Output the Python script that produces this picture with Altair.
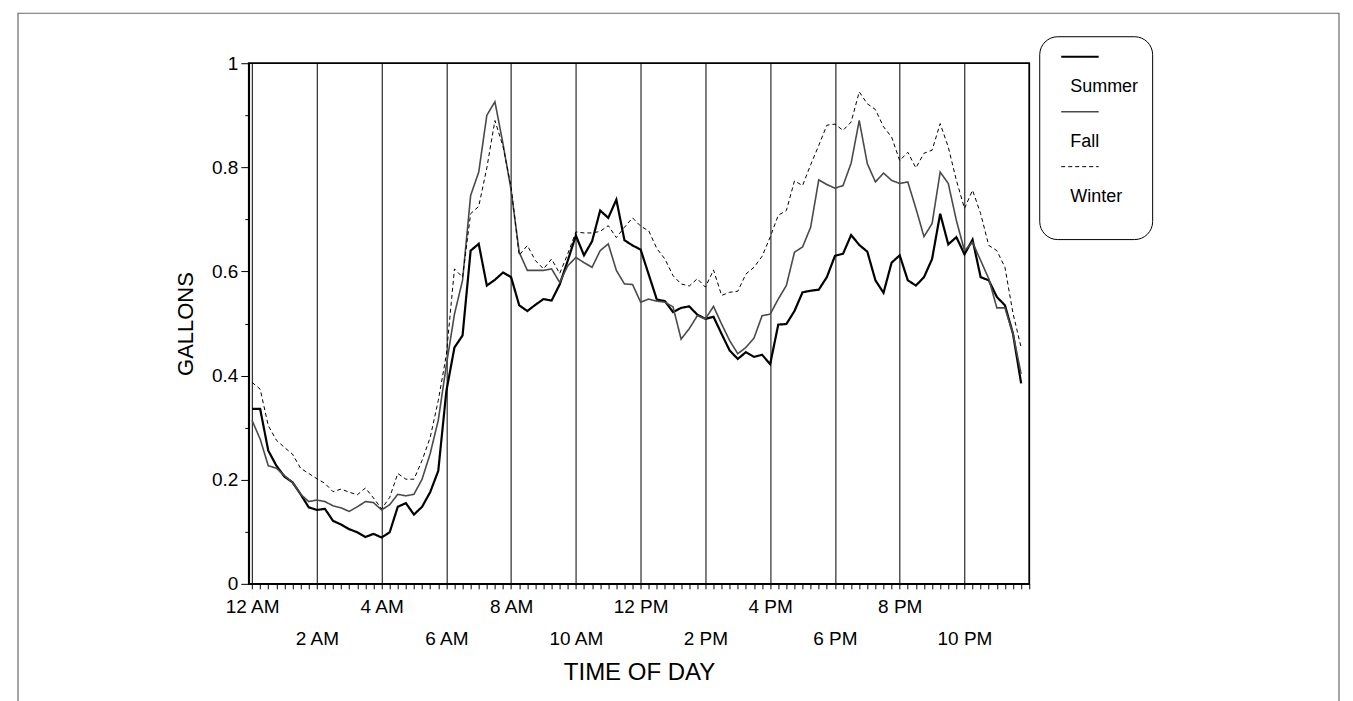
import altair as alt
import pandas as pd

# ---------------- data ----------------
series_names = ["Summer", "Fall", "Winter"]
hours = [i / 4 for i in range(96)]  # 15-minute time steps, 12 AM .. 11:45 PM

summer = [0.336, 0.336, 0.256, 0.227, 0.206, 0.195, 0.172, 0.147, 0.142, 0.144,
          0.121, 0.114, 0.105, 0.099, 0.090, 0.096, 0.089, 0.099, 0.148, 0.155,
          0.133, 0.148, 0.176, 0.217, 0.370, 0.454, 0.477, 0.640, 0.653, 0.573,
          0.584, 0.598, 0.589, 0.535, 0.524, 0.536, 0.547, 0.544, 0.575, 0.621,
          0.669, 0.631, 0.658, 0.717, 0.703, 0.738, 0.660, 0.650, 0.642, 0.594,
          0.546, 0.543, 0.522, 0.530, 0.533, 0.517, 0.509, 0.513, 0.480, 0.448,
          0.432, 0.445, 0.436, 0.440, 0.422, 0.498, 0.499, 0.524, 0.560, 0.563,
          0.565, 0.589, 0.630, 0.634, 0.670, 0.651, 0.638, 0.583, 0.559, 0.617,
          0.631, 0.583, 0.573, 0.589, 0.624, 0.711, 0.652, 0.666, 0.633, 0.661,
          0.589, 0.583, 0.551, 0.535, 0.480, 0.385]

fall = [0.314, 0.278, 0.227, 0.222, 0.208, 0.195, 0.172, 0.158, 0.161, 0.158,
        0.150, 0.146, 0.139, 0.148, 0.158, 0.156, 0.142, 0.152, 0.172, 0.169,
        0.172, 0.201, 0.250, 0.314, 0.420, 0.518, 0.583, 0.746, 0.791, 0.900,
        0.926, 0.845, 0.756, 0.637, 0.602, 0.602, 0.602, 0.605, 0.579, 0.611,
        0.627, 0.617, 0.608, 0.640, 0.653, 0.602, 0.576, 0.575, 0.541, 0.547,
        0.543, 0.541, 0.532, 0.470, 0.490, 0.515, 0.509, 0.533, 0.499, 0.467,
        0.442, 0.454, 0.472, 0.515, 0.518, 0.547, 0.573, 0.637, 0.647, 0.685,
        0.776, 0.767, 0.760, 0.765, 0.808, 0.890, 0.807, 0.772, 0.789, 0.775,
        0.769, 0.772, 0.721, 0.667, 0.692, 0.791, 0.769, 0.698, 0.640, 0.656,
        0.621, 0.586, 0.530, 0.530, 0.480, 0.403]

winter = [0.387, 0.374, 0.304, 0.276, 0.262, 0.249, 0.222, 0.212, 0.202, 0.193,
          0.177, 0.182, 0.176, 0.171, 0.184, 0.165, 0.144, 0.166, 0.212, 0.201,
          0.201, 0.237, 0.281, 0.352, 0.440, 0.605, 0.589, 0.711, 0.725, 0.799,
          0.890, 0.840, 0.762, 0.631, 0.650, 0.621, 0.605, 0.624, 0.596, 0.634,
          0.676, 0.674, 0.674, 0.677, 0.688, 0.665, 0.685, 0.703, 0.687, 0.678,
          0.644, 0.624, 0.592, 0.576, 0.572, 0.586, 0.570, 0.603, 0.554, 0.560,
          0.562, 0.595, 0.608, 0.629, 0.666, 0.708, 0.717, 0.774, 0.765, 0.805,
          0.842, 0.881, 0.883, 0.871, 0.887, 0.945, 0.922, 0.911, 0.878, 0.858,
          0.813, 0.829, 0.799, 0.827, 0.833, 0.884, 0.839, 0.775, 0.721, 0.756,
          0.711, 0.650, 0.640, 0.608, 0.519, 0.454]

tick_hours = [0, 2, 4, 6, 8, 10, 12, 14, 16, 18, 20, 22]
tick_labels = ["12 AM", "2 AM", "4 AM", "6 AM", "8 AM", "10 AM",
               "12 PM", "2 PM", "4 PM", "6 PM", "8 PM", "10 PM"]
minor_hours = [i / 4 for i in range(97)]
y_ticks = [0, 0.1, 0.2, 0.3, 0.4, 0.5, 0.6, 0.7, 0.8, 0.9, 1.0]

rows = []
for name, vals in zip(series_names, [summer, fall, winter]):
    for h, v in zip(hours, vals):
        rows.append({"hour": h, "gallons": v, "season": name})
df = pd.DataFrame(rows)

# ---------------- styling ----------------
FONT = "Liberation Sans"
W, H = 781, 521

label_arr = "[" + ",".join("'" + t + "'" for t in tick_labels) + "]"
x_label_expr = (
    "(datum.value % 2 == 0 && datum.value < 24) ? "
    "(datum.value % 4 == 0 ? " + label_arr + "[datum.value/2] : ['', " + label_arr + "[datum.value/2]]) : ''"
)

# legend: line sample above its name, inside a rounded box
legend_label_expr = (
    "datum.label == '" + series_names[-1] + "' ? ['', datum.label, ''] : ['', datum.label]"
)
legend = alt.Legend(
    title=None,
    orient="none",
    legendX=791,
    legendY=-27,
    fillColor="white",
    strokeColor="black",
    cornerRadius=18,
    padding=13,
    symbolType="M0,-0.6L15,-0.6",
    symbolSize=25,
    labelFont=FONT,
    labelFontSize=18,
    labelColor="black",
    labelOffset=0,
    labelBaseline="top",
    labelExpr=legend_label_expr,
    rowPadding=8,
)

frame = alt.Chart(pd.DataFrame({"f": [0]})).mark_rect(
    fill=None, stroke="#6a6a6a", strokeWidth=1.2
).encode(
    x=alt.value(-231), x2=alt.value(1091), y=alt.value(-50), y2=alt.value(640)
)

lines = alt.Chart(df).mark_line(strokeJoin="miter").encode(
    x=alt.X(
        "hour:Q",
        scale=alt.Scale(domain=[-0.1, 24], nice=False, zero=False),
        axis=alt.Axis(
            values=minor_hours,
            title="TIME OF DAY",
            grid=True,
            gridColor="black",
            gridWidth=1,
            gridOpacity={"condition": {"test": "datum.value % 2 == 0 && datum.value < 24", "value": 1}, "value": 0},
            tickSize=5,
            tickColor="black",
            tickWidth=1,
            labelExpr=x_label_expr,
            labelOverlap=False,
            labelFlush=False,
            labelBound=False,
            labelFont=FONT,
            labelFontSize=19,
            labelColor="black",
            labelPadding=9,
            labelBaseline="top",
            labelLineHeight=32,
            titleFont=FONT,
            titleFontSize=24,
            titleFontWeight="normal",
            titleColor="black",
            titlePadding=12,
            domainColor="black",
            domainWidth=1.5,
        ),
    ),
    y=alt.Y(
        "gallons:Q",
        scale=alt.Scale(domain=[0, 1], nice=False),
        axis=alt.Axis(
            values=y_ticks,
            format="~g",
            title="GALLONS",
            grid=False,
            labelExpr="round(datum.value*10) % 2 == 0 ? datum.label : ''",
            tickSize={"condition": {"test": "round(datum.value*10) % 2 == 0", "value": 8}, "value": 4},
            tickColor="black",
            labelFont=FONT,
            labelFontSize=19,
            labelColor="black",
            labelPadding=3,
            titleFont=FONT,
            titleFontSize=22,
            titleFontWeight="normal",
            titleColor="black",
            titlePadding=14,
            domainColor="black",
            domainWidth=1.5,
        ),
    ),
    color=alt.Color("season:N", scale=alt.Scale(domain=series_names, range=["black", "#4a4a4a", "black"]), legend=legend),
    strokeDash=alt.StrokeDash("season:N", scale=alt.Scale(domain=series_names, range=[[1, 0], [1, 0], [4, 3]]), legend=legend),
    strokeWidth=alt.StrokeWidth("season:N", scale=alt.Scale(domain=series_names, range=[2.2, 1.0, 1.7]), legend=legend),
)

chart = alt.layer(frame, lines).properties(
    width=W,
    height=H,
    padding={"left": 9, "top": 4, "right": 5, "bottom": 5},
    background="white",
).configure_view(
    stroke="black", strokeWidth=1.8
)

chart.save("out.html", embed_options={"renderer": "svg", "actions": False})
